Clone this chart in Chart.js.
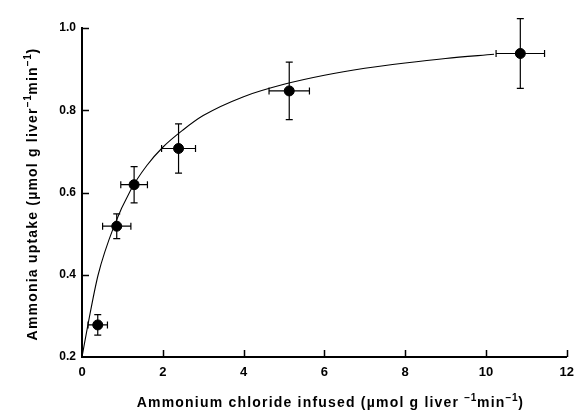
<!DOCTYPE html>
<html>
<head>
<meta charset="utf-8">
<script src="https://cdn.jsdelivr.net/npm/chart.js@4.4.1/dist/chart.umd.min.js"></script>
<style>
  html, body { margin: 0; padding: 0; background: #fff; }
  #wrap { width: 582px; height: 410px; }
</style>
</head>
<body>
<div id="wrap"><canvas id="chart" width="582" height="410"></canvas></div>
<script>
// measured points (mean ± error)
const infused = [0.39, 0.86, 1.29, 2.39, 5.13, 10.85];
const infusedErr = [0.24, 0.35, 0.33, 0.42, 0.50, 0.60];
const uptake = [0.278, 0.518, 0.619, 0.707, 0.847, 0.938];
const uptakeErr = [0.025, 0.030, 0.044, 0.060, 0.070, 0.085];

// fitted curve
const curveX = [0, 0.15, 0.4, 0.8, 1.2, 1.6, 2, 2.5, 3, 4, 5, 6, 7, 8, 9, 10.2];
const curveY = [0.2, 0.28, 0.40, 0.52, 0.605, 0.665, 0.71, 0.752, 0.787, 0.833, 0.863, 0.885, 0.902, 0.915, 0.926, 0.936];

const xTicks = [0, 2, 4, 6, 8, 10, 12];
const yTicks = [0.2, 0.4, 0.6, 0.8, 1.0];

const FONT = '"Liberation Sans", Arial, Helvetica, sans-serif';

const xTitle = [
  { t: 'Ammonium chloride infused (µmol g liver ' },
  { t: '−1', sup: true },
  { t: 'min' },
  { t: '−1', sup: true },
  { t: ')' }
];
const yTitle = [
  { t: 'Ammonia uptake (µmol g liver' },
  { t: '−1', sup: true },
  { t: 'min' },
  { t: '−1', sup: true },
  { t: ')' }
];

function setFont(ctx, p, size) {
  ctx.font = 'bold ' + (p.sup ? size * 0.72 : size) + 'px ' + FONT;
  ctx.letterSpacing = (p.sup ? 0.6 : 1.2) + 'px';
}
function drawRich(ctx, parts, cx, baseY, size) {
  let w = 0;
  parts.forEach(p => { setFont(ctx, p, size); w += ctx.measureText(p.t).width; });
  let x = cx - w / 2;
  ctx.textAlign = 'left';
  ctx.textBaseline = 'alphabetic';
  parts.forEach(p => {
    setFont(ctx, p, size);
    ctx.fillText(p.t, x, p.sup ? baseY - size * 0.42 : baseY);
    x += ctx.measureText(p.t).width;
  });
  ctx.letterSpacing = '0px';
}

const errorBars = {
  id: 'errorBars',
  afterDatasetsDraw(c) {
    const { ctx, scales: { x, y } } = c;
    const cap = 3.5;
    ctx.save();
    ctx.strokeStyle = '#000';
    ctx.lineWidth = 1.2;
    infused.forEach((v, i) => {
      const px = x.getPixelForValue(v), py = y.getPixelForValue(uptake[i]);
      const x0 = x.getPixelForValue(v - infusedErr[i]), x1 = x.getPixelForValue(v + infusedErr[i]);
      const y0 = y.getPixelForValue(uptake[i] - uptakeErr[i]), y1 = y.getPixelForValue(uptake[i] + uptakeErr[i]);
      ctx.beginPath();
      ctx.moveTo(x0, py); ctx.lineTo(x1, py);
      ctx.moveTo(x0, py - cap); ctx.lineTo(x0, py + cap);
      ctx.moveTo(x1, py - cap); ctx.lineTo(x1, py + cap);
      ctx.moveTo(px, y0); ctx.lineTo(px, y1);
      ctx.moveTo(px - cap, y0); ctx.lineTo(px + cap, y0);
      ctx.moveTo(px - cap, y1); ctx.lineTo(px + cap, y1);
      ctx.stroke();
    });
    ctx.restore();
  }
};

// inward tick marks + axis titles with superscripts
const axesDecor = {
  id: 'axesDecor',
  afterDraw(c) {
    const { ctx, chartArea: a, scales: { x, y } } = c;
    ctx.save();
    ctx.strokeStyle = '#000';
    ctx.lineWidth = 1.5;
    ctx.beginPath();
    xTicks.forEach(v => {
      const px = Math.round(x.getPixelForValue(v)) + 0.5;
      if (v === 0) return;
      ctx.moveTo(px, a.bottom); ctx.lineTo(px, a.bottom - 7);
    });
    yTicks.forEach(v => {
      const py = Math.round(y.getPixelForValue(v)) + 0.5;
      if (v === 0.2) return;
      ctx.moveTo(a.left, py); ctx.lineTo(a.left + 7, py);
    });
    ctx.stroke();

    ctx.fillStyle = '#000';
    drawRich(ctx, xTitle, (a.left + a.right) / 2 + 6, 407, 14);
    ctx.translate(37, 194);
    ctx.rotate(-Math.PI / 2);
    drawRich(ctx, yTitle, 0, 0, 14);
    ctx.restore();
  }
};

new Chart(document.getElementById('chart'), {
  type: 'scatter',
  data: {
    datasets: [
      {
        type: 'line',
        data: curveX.map((v, i) => ({ x: v, y: curveY[i] })),
        borderColor: '#000',
        borderWidth: 1.1,
        pointRadius: 0,
        fill: false,
        cubicInterpolationMode: 'monotone'
      },
      {
        data: infused.map((v, i) => ({ x: v, y: uptake[i] })),
        backgroundColor: '#000',
        borderColor: '#000',
        pointRadius: 5,
        pointHoverRadius: 5
      }
    ]
  },
  options: {
    responsive: false,
    animation: false,
    events: [],
    layout: { padding: { left: 0, right: 8, top: 28, bottom: 0 } },
    plugins: { legend: { display: false }, tooltip: { enabled: false } },
    scales: {
      x: {
        type: 'linear', min: 0, max: 12,
        afterFit: s => { s.height = 53; },
        afterBuildTicks: s => { s.ticks = xTicks.map(v => ({ value: v })); },
        grid: { display: false, drawTicks: false },
        border: { display: true, color: '#000', width: 2 },
        ticks: { color: '#000', padding: 8, font: { family: FONT, size: 13, weight: 'bold' }, maxRotation: 0 }
      },
      y: {
        type: 'linear', min: 0.2, max: 1.0,
        afterFit: s => { s.width = 82; },
        afterBuildTicks: s => { s.ticks = yTicks.map(v => ({ value: v })); },
        grid: { display: false, drawTicks: false },
        border: { display: true, color: '#000', width: 2 },
        ticks: { color: '#000', padding: 6, font: { family: FONT, size: 12, weight: 'bold' },
          callback: v => v.toFixed(1) }
      }
    }
  },
  plugins: [errorBars, axesDecor]
});
</script>
</body>
</html>
